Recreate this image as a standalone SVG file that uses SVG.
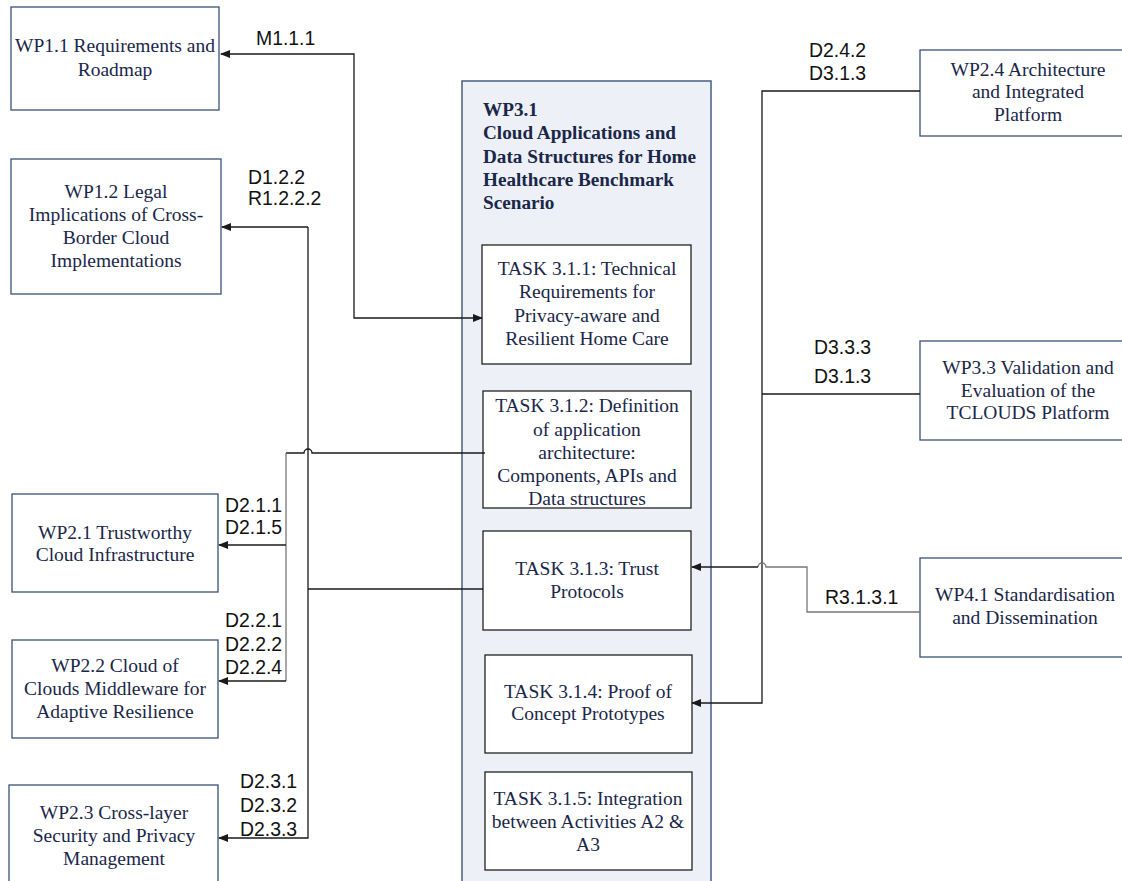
<svg xmlns="http://www.w3.org/2000/svg" width="1122" height="881" viewBox="0 0 1122 881">
  <style>
    .wp { fill: #ffffff; stroke: #3b5078; stroke-width: 1.3; }
    .task { fill: #ffffff; stroke: #222222; stroke-width: 1.3; }
    .container { fill: #edf1f7; stroke: #4a5f82; stroke-width: 1.5; }
    .bt { font-family: "Liberation Serif", "Times New Roman", serif; font-size: 19.5px; fill: #1a2749; text-anchor: middle; }
    .title { font-family: "Liberation Serif", "Times New Roman", serif; font-size: 19.2px; font-weight: bold; fill: #1a2749; }
    .lbl { font-family: "Liberation Sans", Arial, sans-serif; font-size: 19.4px; fill: #111111; }
    .ln { fill: none; stroke: #1a1a1a; stroke-width: 1.3; }
    .lg { fill: none; stroke: #777777; stroke-width: 1.3; }
  </style>
  <defs>
    <marker id="arr" markerWidth="10" markerHeight="8" refX="9" refY="4" orient="auto" markerUnits="userSpaceOnUse">
      <path d="M0,0 L10,4 L0,8 Z" fill="#1a1a1a"/>
    </marker>
    <marker id="arrs" markerWidth="10" markerHeight="8" refX="1" refY="4" orient="auto" markerUnits="userSpaceOnUse">
      <path d="M10,0 L0,4 L10,8 Z" fill="#1a1a1a"/>
    </marker>
  </defs>

  <rect width="1122" height="881" fill="#ffffff"/>

  <!-- WP3.1 container with its tasks -->
  <g id="wp31">
    <rect class="container" x="462" y="81" width="249" height="810"/>
    <text class="title" x="483" y="116">WP3.1</text>
    <text class="title" x="483" y="139">Cloud Applications and</text>
    <text class="title" x="483" y="163">Data Structures for Home</text>
    <text class="title" x="483" y="186">Healthcare Benchmark</text>
    <text class="title" x="483" y="209">Scenario</text>
  </g>
  <g id="task311">
    <rect class="task" x="482" y="245" width="209" height="119"/>
    <text class="bt" x="587" y="275">TASK 3.1.1: Technical</text>
    <text class="bt" x="587" y="298">Requirements for</text>
    <text class="bt" x="587" y="322">Privacy-aware and</text>
    <text class="bt" x="587" y="345">Resilient Home Care</text>
  </g>
  <g id="task312">
    <rect class="task" x="483" y="391" width="208" height="117"/>
    <text class="bt" x="587" y="412">TASK 3.1.2: Definition</text>
    <text class="bt" x="587" y="436">of application</text>
    <text class="bt" x="587" y="459">architecture:</text>
    <text class="bt" x="587" y="482">Components, APIs and</text>
    <text class="bt" x="587" y="505">Data structures</text>
  </g>
  <g id="task313">
    <rect class="task" x="483" y="531" width="208" height="99"/>
    <text class="bt" x="587" y="575">TASK 3.1.3: Trust</text>
    <text class="bt" x="587" y="598">Protocols</text>
  </g>
  <g id="task314">
    <rect class="task" x="485" y="655" width="207" height="98"/>
    <text class="bt" x="588" y="698">TASK 3.1.4: Proof of</text>
    <text class="bt" x="588" y="720">Concept Prototypes</text>
  </g>
  <g id="task315">
    <rect class="task" x="485" y="772" width="207" height="98"/>
    <text class="bt" x="588" y="805">TASK 3.1.5: Integration</text>
    <text class="bt" x="588" y="828">between Activities A2 &amp;</text>
    <text class="bt" x="588" y="851">A3</text>
  </g>

  <!-- Left work packages -->
  <g id="wp11">
    <rect class="wp" x="11" y="7" width="208" height="103"/>
    <text class="bt" x="115" y="52">WP1.1 Requirements and</text>
    <text class="bt" x="115" y="76">Roadmap</text>
  </g>
  <g id="wp12">
    <rect class="wp" x="11" y="159" width="210" height="135"/>
    <text class="bt" x="116" y="198">WP1.2 Legal</text>
    <text class="bt" x="116" y="221">Implications of Cross-</text>
    <text class="bt" x="116" y="244">Border Cloud</text>
    <text class="bt" x="116" y="267">Implementations</text>
  </g>
  <g id="wp21">
    <rect class="wp" x="12" y="494" width="206" height="98"/>
    <text class="bt" x="115" y="539">WP2.1 Trustworthy</text>
    <text class="bt" x="115" y="561">Cloud Infrastructure</text>
  </g>
  <g id="wp22">
    <rect class="wp" x="12" y="640" width="206" height="98"/>
    <text class="bt" x="115" y="672">WP2.2 Cloud of</text>
    <text class="bt" x="115" y="695">Clouds Middleware for</text>
    <text class="bt" x="115" y="718">Adaptive Resilience</text>
  </g>
  <g id="wp23">
    <rect class="wp" x="9" y="785" width="209" height="110"/>
    <text class="bt" x="114" y="819">WP2.3 Cross-layer</text>
    <text class="bt" x="114" y="842">Security and Privacy</text>
    <text class="bt" x="114" y="865">Management</text>
  </g>

  <!-- Right work packages -->
  <g id="wp24">
    <rect class="wp" x="920" y="50" width="210" height="86"/>
    <text class="bt" x="1028" y="76">WP2.4 Architecture</text>
    <text class="bt" x="1028" y="98">and Integrated</text>
    <text class="bt" x="1028" y="121">Platform</text>
  </g>
  <g id="wp33">
    <rect class="wp" x="920" y="341" width="210" height="99"/>
    <text class="bt" x="1028" y="374">WP3.3 Validation and</text>
    <text class="bt" x="1028" y="397">Evaluation of the</text>
    <text class="bt" x="1028" y="419">TCLOUDS Platform</text>
  </g>
  <g id="wp41">
    <rect class="wp" x="920" y="558" width="210" height="99"/>
    <text class="bt" x="1025" y="601">WP4.1 Standardisation</text>
    <text class="bt" x="1025" y="624">and Dissemination</text>
  </g>

  <!-- Connectors -->
  <g id="connectors">
    <!-- M1.1.1 between WP1.1 and Task 3.1.1 -->
    <path class="ln" d="M221,54 H354 V318 H482" marker-start="url(#arrs)" marker-end="url(#arr)"/>
    <!-- Task 3.1.3 deliverables to WP1.2 and WP2.3 -->
    <path class="ln" d="M308,227 H222" marker-end="url(#arr)"/>
    <path class="ln" d="M308,227 V838 H219" marker-end="url(#arr)"/>
    <path class="ln" d="M483,589 H308"/>
    <!-- Task 3.1.2 deliverables to WP2.1 and WP2.2 -->
    <path class="ln" d="M485,453 H312 A4,4 0 0 0 304,453 H286"/>
    <path class="lg" d="M286,453 V681"/>
    <path class="ln" d="M286,545 H219" marker-end="url(#arr)"/>
    <path class="ln" d="M286,681 H219" marker-end="url(#arr)"/>
    <!-- WP2.4 / WP3.3 to Task 3.1.4 -->
    <path class="ln" d="M920,91 H762 V703 H692" marker-end="url(#arr)"/>
    <path class="ln" d="M762,394 H920"/>
    <!-- WP4.1 to Task 3.1.3 -->
    <path class="lg" d="M920,612 H807 V567 H766 A4,4 0 0 0 758,567"/>
    <path class="ln" d="M758,567 H692" marker-end="url(#arr)"/>
  </g>

  <!-- Connector labels -->
  <g id="labels">
    <text class="lbl" x="256" y="45">M1.1.1</text>
    <text class="lbl" x="248" y="184">D1.2.2</text>
    <text class="lbl" x="248" y="205">R1.2.2.2</text>
    <text class="lbl" x="225" y="512">D2.1.1</text>
    <text class="lbl" x="225" y="534">D2.1.5</text>
    <text class="lbl" x="225" y="627">D2.2.1</text>
    <text class="lbl" x="225" y="651">D2.2.2</text>
    <text class="lbl" x="225" y="674">D2.2.4</text>
    <text class="lbl" x="240" y="788">D2.3.1</text>
    <text class="lbl" x="240" y="812">D2.3.2</text>
    <text class="lbl" x="240" y="836">D2.3.3</text>
    <text class="lbl" x="809" y="57">D2.4.2</text>
    <text class="lbl" x="809" y="80">D3.1.3</text>
    <text class="lbl" x="814" y="354">D3.3.3</text>
    <text class="lbl" x="814" y="383">D3.1.3</text>
    <text class="lbl" x="825" y="604">R3.1.3.1</text>
  </g>
</svg>
